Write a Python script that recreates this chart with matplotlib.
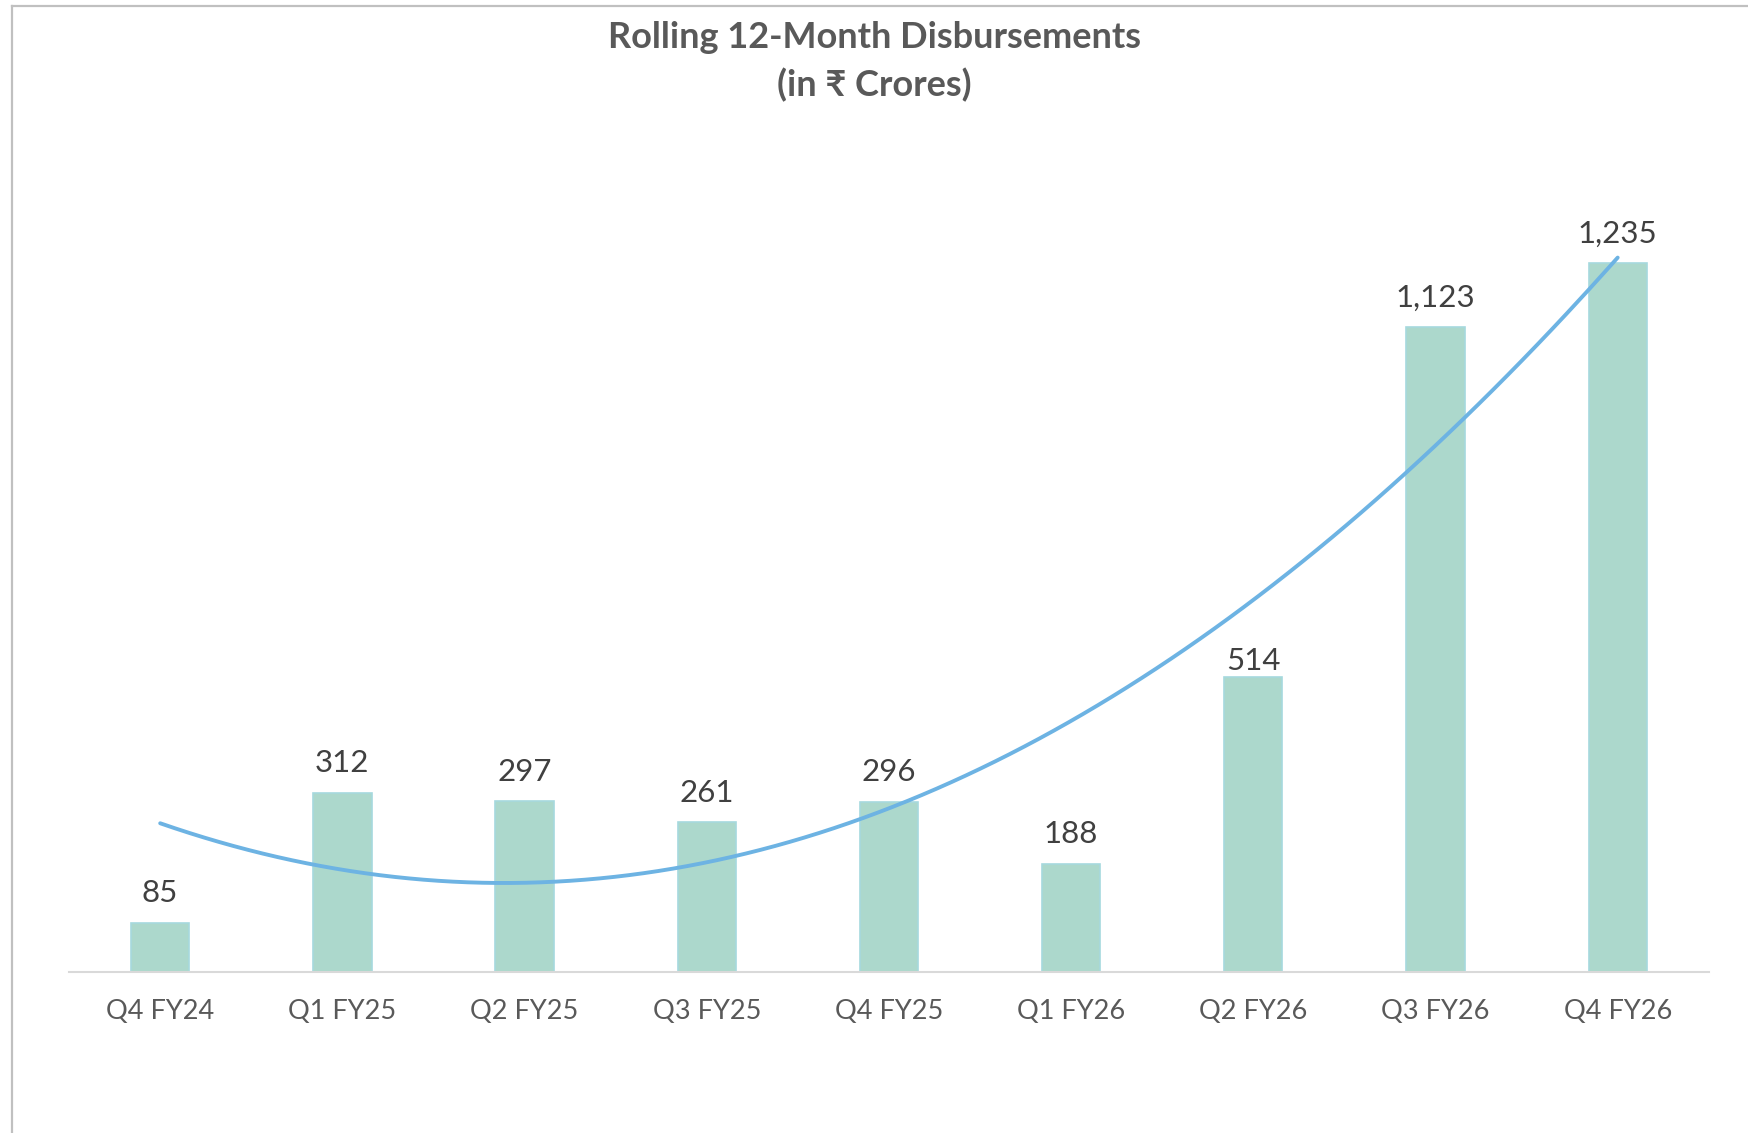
import numpy as np
import matplotlib
matplotlib.use("Agg")
import matplotlib.pyplot as plt
from matplotlib.lines import Line2D

quarters = ["Q4 FY24", "Q1 FY25", "Q2 FY25", "Q3 FY25", "Q4 FY25",
            "Q1 FY26", "Q2 FY26", "Q3 FY26", "Q4 FY26"]
disbursements = [85, 312, 297, 261, 296, 188, 514, 1123, 1235]

plt.rcParams["font.family"] = ["Lato", "DejaVu Sans"]

fig = plt.figure(figsize=(17.49, 11.33), dpi=100)
ax = fig.add_axes([0.0395, 0.1425, 0.9375, 0.709])

x = np.arange(len(quarters))
ax.bar(x, disbursements, width=0.32, color="#acd8cc",
       edgecolor="#a6d9de", linewidth=1.2)

# polynomial (order 2) trendline, as in the original Excel chart
coef = np.polyfit(x, disbursements, 2)
xs = np.linspace(x[0], x[-1], 200)
ax.plot(xs, np.polyval(coef, xs), color="#6db3e3", lw=2.8,
        solid_capstyle="round")

for xi, v in zip(x, disbursements):
    # the Q2 FY26 label sits tucked under the trendline in the original
    dy = 1 if xi == 6 else 11
    ax.annotate(f"{v:,}", (xi, v), xytext=(0, dy), textcoords="offset points",
                ha="center", va="bottom", fontsize=22.5, color="#404040")

ax.set_xlim(-0.5, 8.5)
ax.set_ylim(0, 1400)
ax.set_xticks(x, quarters)
ax.tick_params(axis="x", length=0, pad=20, labelsize=19.5, labelcolor="#595959")
ax.set_yticks([])
for s in ("top", "right", "left"):
    ax.spines[s].set_visible(False)
ax.spines["bottom"].set_color("#d9d9d9")
ax.spines["bottom"].set_linewidth(1.5)

fig.text(0.5, 1 - 37 / 1133, "Rolling 12-Month Disbursements",
         ha="center", va="center", fontsize=26, fontweight="bold", color="#595959")
fig.text(0.5, 1 - 85 / 1133, "(in ₹ Crores)",
         ha="center", va="center", fontsize=26, fontweight="bold", color="#595959")

# outer chart frame (top and left edges visible)
fig.add_artist(Line2D([12 / 1749, 1.0], [1 - 6 / 1133] * 2, color="#c0c0c0", lw=1.6))
fig.add_artist(Line2D([12 / 1749] * 2, [0.0, 1 - 6 / 1133], color="#c0c0c0", lw=1.6))

fig.savefig("out.png", dpi=100)
